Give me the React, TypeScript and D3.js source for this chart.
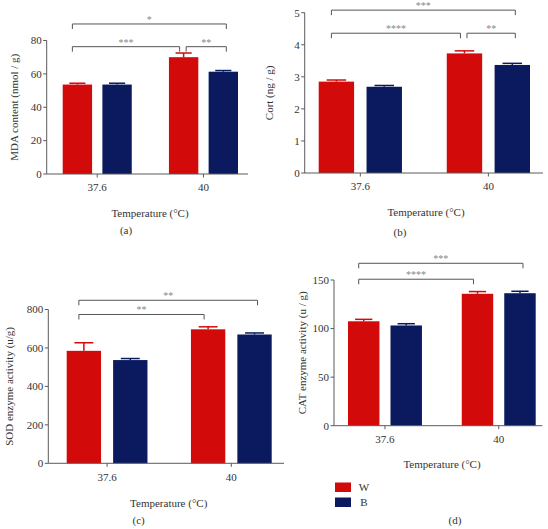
import React from "react";
import * as d3 from "d3";

// ---------- data ----------
const categories = ["37.6", "40"];
const seriesNames = ["W", "B"];
const seriesColors = ["#D20A0A", "#0B1A5E"];

const mdaW = [53.6, 70.0];
const mdaWErr = [0.8, 2.5];
const mdaB = [53.6, 61.3];
const mdaBErr = [0.8, 0.7];
const mdaTicks = [0, 20, 40, 60, 80];

const cortW = [2.85, 3.73];
const cortWErr = [0.05, 0.08];
const cortB = [2.69, 3.37];
const cortBErr = [0.04, 0.05];
const cortTicks = [0, 1, 2, 3, 4, 5];

const sodW = [585, 697];
const sodWErr = [42, 13];
const sodB = [537, 670];
const sodBErr = [8, 8];
const sodTicks = [0, 200, 400, 600, 800];

const catW = [107.5, 135.8];
const catWErr = [2.0, 2.3];
const catB = [103.2, 136.4];
const catBErr = [1.8, 2.0];
const catTicks = [0, 50, 100, 150];

// significance brackets: [fromCategory, fromSeries, toCategory, toSeries, level, label]
type Bracket = [number, number, number, number, number, string];
const mdaBrackets: Bracket[] = [
  [0, 0, 1, 1, 89.9, "*"],
  [0, 0, 1, 0, 76.3, "***"],
  [1, 0, 1, 1, 76.3, "**"],
];
const cortBrackets: Bracket[] = [
  [0, 0, 1, 1, 5.08, "***"],
  [0, 0, 1, 0, 4.36, "****"],
  [1, 0, 1, 1, 4.36, "**"],
];
const sodBrackets: Bracket[] = [
  [0, 0, 1, 1, 848, "**"],
  [0, 0, 1, 0, 774, "**"],
];
const catBrackets: Bracket[] = [
  [0, 0, 1, 1, 167.2, "***"],
  [0, 0, 1, 0, 150.8, "****"],
];

// ---------- style ----------
const FONT = "'Liberation Serif', 'DejaVu Serif', serif";
const TEXT = "#333";
const AXIS = "#5a5a5a";
const BRACKET = "#555";
const STAR = "#888";

type Layout = {
  axisX: number;
  axisEnd: number;
  groupRange: [number, number];
  y0: number;
  yTop: number;
  yTitleX: number;
  xTitle: [number, number];
  panelLabel: [number, number, string];
};

type PanelProps = {
  w: number[];
  wErr: number[];
  b: number[];
  bErr: number[];
  ticks: number[];
  yTitle: string;
  brackets: Bracket[];
  layout: Layout;
};

function Panel({ w, wErr, b, bErr, ticks, yTitle, brackets, layout }: PanelProps) {
  const L = layout;
  const values = [w, b];
  const errs = [wErr, bErr];
  const yMax = ticks[ticks.length - 1];
  const y = d3.scaleLinear().domain([0, yMax]).range([L.y0, L.yTop]);
  const outer = d3.scaleBand<string>().domain(categories).range(L.groupRange).paddingInner(0.35).paddingOuter(0);
  const inner = d3.scaleBand<string>().domain(seriesNames).range([0, outer.bandwidth()]).paddingInner(0.26).paddingOuter(0);
  const bw = inner.bandwidth();
  const barX = (ci: number, si: number) => (outer(categories[ci]) as number) + (inner(seriesNames[si]) as number);
  const barC = (ci: number, si: number) => barX(ci, si) + bw / 2;
  const yTitleY = (L.y0 + L.yTop) / 2;

  return (
    <g>
      {/* bars */}
      {categories.map((c, ci) =>
        seriesNames.map((s, si) => {
          const v = values[si][ci];
          const e = errs[si][ci];
          const x = barX(ci, si);
          const cx = x + bw / 2;
          const capW = bw * 0.55;
          return (
            <g key={c + s}>
              <rect x={x} y={y(v)} width={bw} height={L.y0 - y(v)} fill={seriesColors[si]} />
              <line x1={cx} x2={cx} y1={y(v)} y2={y(v + e)} stroke={seriesColors[si]} strokeWidth={1.5} />
              <line x1={cx - capW / 2} x2={cx + capW / 2} y1={y(v + e)} y2={y(v + e)} stroke={seriesColors[si]} strokeWidth={1.5} />
            </g>
          );
        })
      )}
      {/* y axis */}
      <line x1={L.axisX} x2={L.axisX} y1={L.y0} y2={y(yMax)} stroke={AXIS} strokeWidth={1} />
      {ticks.map((t) => (
        <g key={"yt" + t}>
          <line x1={L.axisX - 3.5} x2={L.axisX} y1={y(t)} y2={y(t)} stroke={AXIS} strokeWidth={1} />
          <text x={L.axisX - 5} y={y(t)} dy="0.35em" textAnchor="end" fontSize={11} fill={TEXT} fontFamily={FONT}>
            {t}
          </text>
        </g>
      ))}
      {/* x axis */}
      <line x1={L.axisX} x2={L.axisEnd} y1={L.y0} y2={L.y0} stroke={AXIS} strokeWidth={1} />
      {categories.map((c) => {
        const cx = (outer(c) as number) + outer.bandwidth() / 2;
        return (
          <g key={"xt" + c}>
            <line x1={cx} x2={cx} y1={L.y0} y2={L.y0 + 3.5} stroke={AXIS} strokeWidth={1} />
            <text x={cx} y={L.y0 + 13.5} dy="0.35em" textAnchor="middle" fontSize={11} fill={TEXT} fontFamily={FONT}>
              {c}
            </text>
          </g>
        );
      })}
      {/* titles */}
      <text
        transform={`translate(${L.yTitleX},${yTitleY}) rotate(-90)`}
        dy="0.35em"
        textAnchor="middle"
        fontSize={11}
        fill={TEXT}
        fontFamily={FONT}
      >
        {yTitle}
      </text>
      <text x={L.xTitle[0]} y={L.xTitle[1]} dy="0.35em" textAnchor="middle" fontSize={11} fill={TEXT} fontFamily={FONT}>
        Temperature (°C)
      </text>
      <text x={L.panelLabel[0]} y={L.panelLabel[1]} dy="0.35em" textAnchor="middle" fontSize={11} fill={TEXT} fontFamily={FONT}>
        {L.panelLabel[2]}
      </text>
      {/* brackets */}
      {brackets.map(([c1, s1, c2, s2, lvl, label], i) => {
        const first = c1 === 0 && s1 === 0;
        const last = c2 === categories.length - 1 && s2 === seriesNames.length - 1;
        const x1 = barC(c1, s1) + (first ? -5 : 2.5);
        const x2 = barC(c2, s2) + (last ? 3 : -4);
        const by = y(lvl);
        return (
          <g key={"br" + i}>
            <path d={`M${x1},${by + 5}V${by}H${x2}V${by + 5}`} fill="none" stroke={BRACKET} strokeWidth={1} />
            <text x={(x1 + x2) / 2} y={by - 1} textAnchor="middle" fontSize={10} fill={STAR} fontFamily={FONT}>
              {label}
            </text>
          </g>
        );
      })}
    </g>
  );
}

const layoutA: Layout = {
  axisX: 46.7, axisEnd: 248, groupRange: [62.7, 238], y0: 174, yTop: 40.5,
  yTitleX: 14, xTitle: [150, 213], panelLabel: [126, 230, "(a)"],
};
const layoutB: Layout = {
  axisX: 304.7, axisEnd: 543, groupRange: [318.7, 530], y0: 173, yTop: 12.7,
  yTitleX: 269.5, xTitle: [426, 212], panelLabel: [400, 232, "(b)"],
};
const layoutC: Layout = {
  axisX: 48.3, axisEnd: 284, groupRange: [66.7, 271.7], y0: 463.3, yTop: 309.5,
  yTitleX: 9, xTitle: [168.7, 502.7], panelLabel: [138.7, 520, "(c)"],
};
const layoutD: Layout = {
  axisX: 334, axisEnd: 542.3, groupRange: [348, 535.7], y0: 425.7, yTop: 280,
  yTitleX: 302.3, xTitle: [442, 464], panelLabel: [455, 520, "(d)"],
};

export default function App() {
  return (
    <svg
      width={548}
      height={529}
      style={{ position: "absolute", left: 0, top: 0, display: "block", background: "#fff" }}
    >
      <rect x={0} y={0} width={548} height={529} fill="#fff" />
      <Panel w={mdaW} wErr={mdaWErr} b={mdaB} bErr={mdaBErr} ticks={mdaTicks} yTitle="MDA content (nmol / g)" brackets={mdaBrackets} layout={layoutA} />
      <Panel w={cortW} wErr={cortWErr} b={cortB} bErr={cortBErr} ticks={cortTicks} yTitle="Cort (ng / g)" brackets={cortBrackets} layout={layoutB} />
      <Panel w={sodW} wErr={sodWErr} b={sodB} bErr={sodBErr} ticks={sodTicks} yTitle="SOD enzyme activity (u/g)" brackets={sodBrackets} layout={layoutC} />
      <Panel w={catW} wErr={catWErr} b={catB} bErr={catBErr} ticks={catTicks} yTitle="CAT enzyme activity (u / g)" brackets={catBrackets} layout={layoutD} />
      {/* legend */}
      {seriesNames.map((s, i) => (
        <g key={"lg" + s}>
          <rect x={335} y={482.5 + i * 15} width={16} height={9.5} fill={seriesColors[i]} />
          <text x={364} y={487.3 + i * 15} dy="0.35em" textAnchor="middle" fontSize={11} fill={TEXT} fontFamily={FONT}>
            {s}
          </text>
        </g>
      ))}
    </svg>
  );
}
